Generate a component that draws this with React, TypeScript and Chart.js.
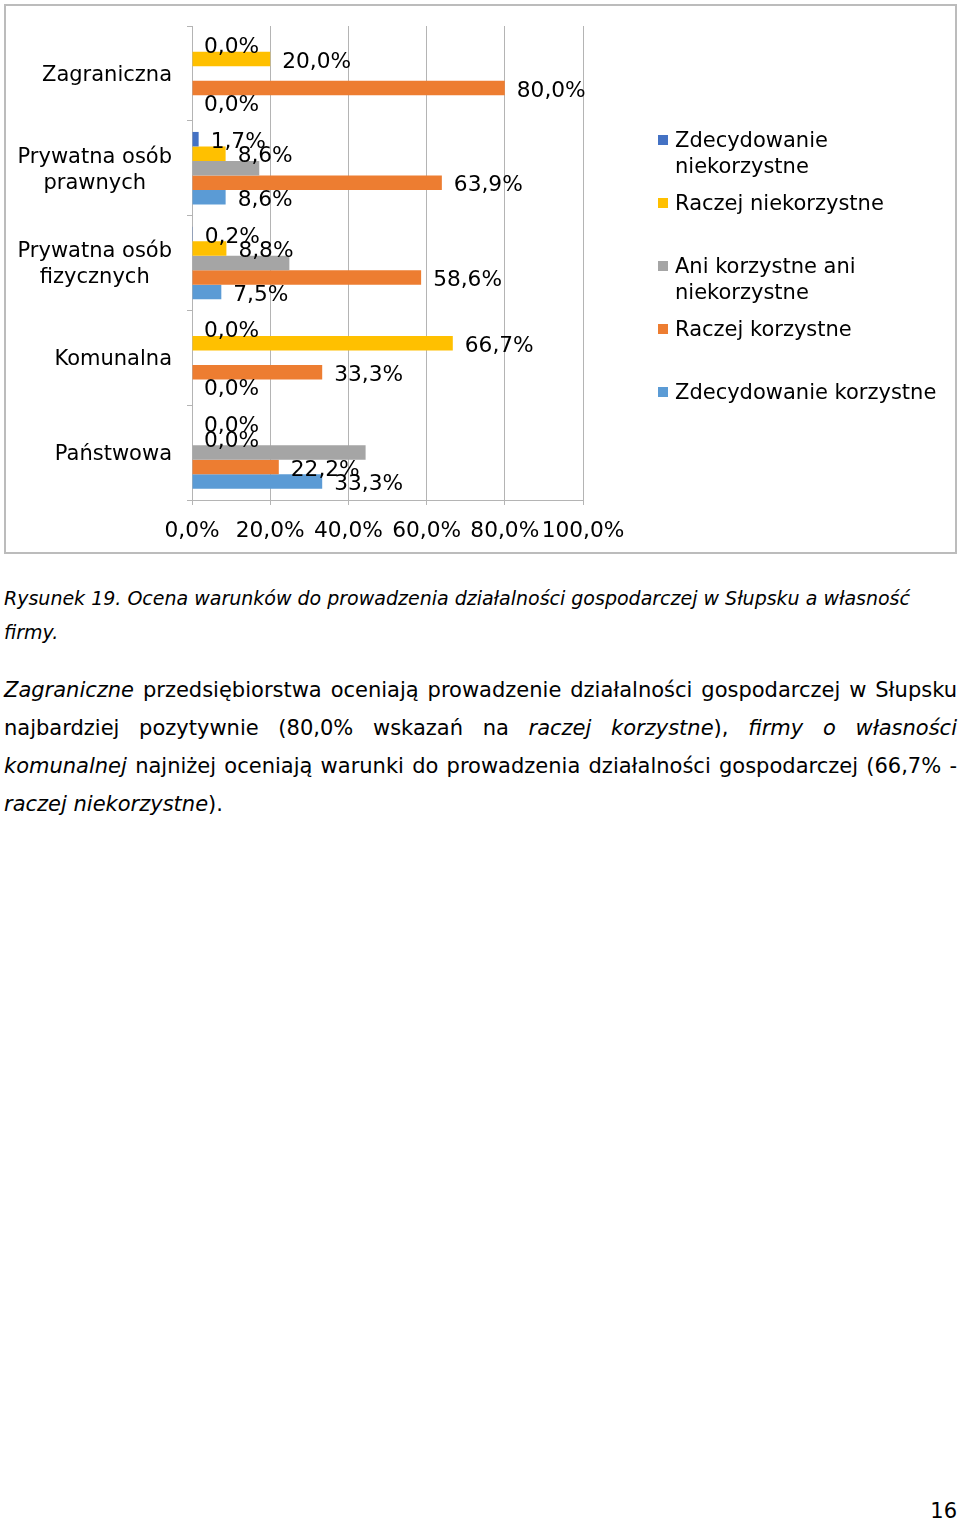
import React, { useEffect, useRef } from "react";
import { Chart, registerables } from "chart.js";

Chart.register(...registerables);

const categories: string[][] = [
  ["Zagraniczna"],
  ["Prywatna osób", "prawnych"],
  ["Prywatna osób", "fizycznych"],
  ["Komunalna"],
  ["Państwowa"],
];
const seriesNames: string[][] = [
  ["Zdecydowanie", "niekorzystne"],
  ["Raczej niekorzystne"],
  ["Ani korzystne ani", "niekorzystne"],
  ["Raczej korzystne"],
  ["Zdecydowanie korzystne"],
];
const seriesColors = ["#4472C4", "#FFC000", "#A5A5A5", "#ED7D31", "#5B9BD5"];
const zdecydowanieNiekorzystne = [0, 1.7, 0.2, 0, 0];
const raczejNiekorzystne = [20, 8.6, 8.8, 66.7, 0];
const aniKorzystneAniNiekorzystne = [0, 17.2, 24.9, 0, 44.4];
const raczejKorzystne = [80, 63.9, 58.6, 33.3, 22.2];
const zdecydowanieKorzystne = [0, 8.6, 7.5, 0, 33.3];
const seriesValues = [
  zdecydowanieNiekorzystne,
  raczejNiekorzystne,
  aniKorzystneAniNiekorzystne,
  raczejKorzystne,
  zdecydowanieKorzystne,
];
const seriesShowLabels = [true, true, false, true, true];
const xTicks = [0, 20, 40, 60, 80, 100];

const FONT_FAMILY = '"DejaVu Sans", Verdana, sans-serif';
const GRID = "#b4b4b4";
const fmt = (v: number) => v.toFixed(1).replace(".", ",") + "%";

const labelsPlugin = {
  id: "customLabels",
  afterDraw(chart: any) {
    const ctx = chart.ctx;
    ctx.save();
    ctx.fillStyle = "#000";
    ctx.textBaseline = "middle";
    // data labels
    ctx.font = `21.7px ${FONT_FAMILY}`;
    chart.data.datasets.forEach((ds: any, i: number) => {
      if (!seriesShowLabels[i]) return;
      const meta = chart.getDatasetMeta(i);
      meta.data.forEach((el: any, j: number) => {
        const v = ds.data[j];
        if (v === null || v === undefined) return;
        ctx.textAlign = "left";
        ctx.fillText(fmt(v), el.x + 12, el.y + 3);
      });
    });
    ctx.font = `21px ${FONT_FAMILY}`;
    // category labels
    const yScale = chart.scales.y;
    categories.forEach((lines, i) => {
      const y = yScale.getPixelForValue(i);
      const widest = Math.max(...lines.map((l) => ctx.measureText(l).width));
      const cx = 168 - widest / 2;
      ctx.textAlign = "center";
      lines.forEach((l, k) => {
        ctx.fillText(l, cx, y + 2 + (k - (lines.length - 1) / 2) * 26);
      });
    });
    // legend
    chart.data.datasets.forEach((ds: any, i: number) => {
      const y0 = 136 + i * 63;
      ctx.fillStyle = ds.backgroundColor;
      ctx.fillRect(654, y0 - 5, 10, 10);
      ctx.fillStyle = "#000";
      ctx.textAlign = "left";
      seriesNames[i].forEach((l, k) => {
        ctx.fillText(l, 671, y0 + 2 + k * 26);
      });
    });
    ctx.restore();
  },
};

function BarChart() {
  const ref = useRef<HTMLCanvasElement | null>(null);
  useEffect(() => {
    if (!ref.current) return;
    const chart = new Chart(ref.current, {
      type: "bar",
      data: {
        labels: categories.map((c) => c.join(" ")),
        datasets: seriesValues.map((vals, i) => ({
          label: seriesNames[i].join(" "),
          data: vals,
          backgroundColor: seriesColors[i],
          borderWidth: 0,
          categoryPercentage: 0.765,
          barPercentage: 1,
        })),
      },
      options: {
        indexAxis: "y",
        animation: false,
        responsive: false,
        devicePixelRatio: 1,
        layout: { padding: { left: 0, top: 22, right: 374, bottom: 0 } },
        plugins: { legend: { display: false }, tooltip: { enabled: false } },
        scales: {
          x: {
            min: 0,
            max: 100,
            afterBuildTicks: (scale: any) => {
              scale.ticks = xTicks.map((v) => ({ value: v }));
            },
            afterFit: (scale: any) => {
              scale.height = 54;
            },
            ticks: {
              font: { family: FONT_FAMILY, size: 21.7 },
              color: "#000",
              padding: 13,
              maxRotation: 0,
              autoSkip: false,
              callback: (v: any) => fmt(Number(v)),
            },
            grid: { color: GRID, tickLength: 5, drawTicks: true },
            border: { color: GRID },
          },
          y: {
            afterFit: (scale: any) => {
              scale.width = 188;
            },
            ticks: { display: false },
            grid: { drawOnChartArea: false, tickLength: 5, color: GRID, offset: true },
            border: { color: GRID },
          },
        },
      } as any,
      plugins: [labelsPlugin],
    });
    return () => chart.destroy();
  }, []);
  return <canvas ref={ref} width={953} height={550} style={{ position: "absolute", left: 0, top: 0 }} />;
}

export default function App() {
  return (
    <div
      style={{
        position: "absolute",
        left: 0,
        top: 0,
        width: 960,
        height: 1521,
        background: "#fff",
        fontFamily: FONT_FAMILY,
        color: "#000",
      }}
    >
      <div style={{ position: "absolute", left: 4, top: 4, width: 953, height: 550 }}>
        <BarChart />
        <div
          style={{
            position: "absolute",
            left: 0,
            top: 0,
            width: 953,
            height: 550,
            boxSizing: "border-box",
            border: "2px solid #bcbcbc",
            pointerEvents: "none",
          }}
        />
      </div>
      <div
        style={{
          position: "absolute",
          left: 4,
          top: 581,
          width: 953,
          fontSize: 19,
          lineHeight: "34px",
          fontStyle: "italic",
        }}
      >
        Rysunek 19. Ocena warunków do prowadzenia działalności gospodarczej w Słupsku a własność firmy.
      </div>
      <div
        style={{
          position: "absolute",
          left: 4,
          top: 671,
          width: 953,
          fontSize: 21,
          lineHeight: "38px",
          textAlign: "justify",
        }}
      >
        <i>Zagraniczne</i> przedsiębiorstwa oceniają prowadzenie działalności gospodarczej w Słupsku
        najbardziej pozytywnie (80,0% wskazań na <i>raczej korzystne</i>), <i>firmy o własności komunalnej</i>{" "}
        najniżej oceniają warunki do prowadzenia działalności gospodarczej (66,7% - <i>raczej niekorzystne</i>).
      </div>
      <div
        style={{
          position: "absolute",
          left: 880,
          top: 1498,
          width: 77,
          fontSize: 21,
          lineHeight: "26px",
          textAlign: "right",
        }}
      >
        16
      </div>
    </div>
  );
}
